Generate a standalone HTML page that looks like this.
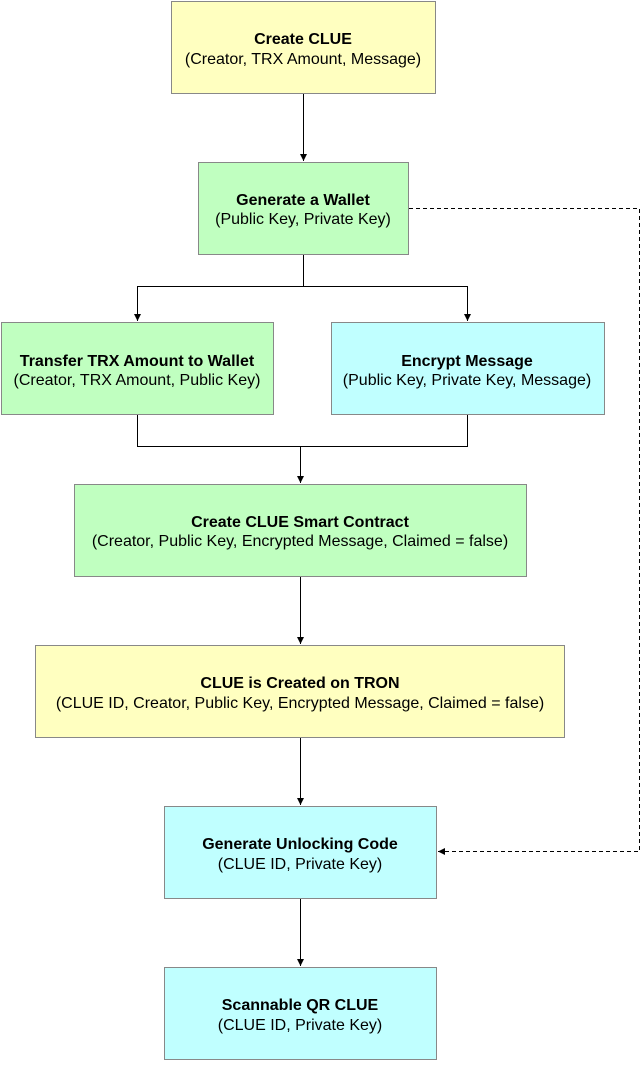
<!DOCTYPE html>
<html><head><meta charset="utf-8"><style>
html,body{margin:0;padding:0;background:#fff}
svg text{font-family:"Liberation Sans",Arial,sans-serif;font-size:16px;fill:#000;text-anchor:middle}
.b{font-weight:bold}
</style></head><body>
<svg width="642" height="1060" viewBox="0 0 642 1060" xmlns="http://www.w3.org/2000/svg">
<defs><marker id="a" markerWidth="8" markerHeight="8" refX="7" refY="4" orient="auto" markerUnits="userSpaceOnUse"><path d="M0,0.5 L7,4 L0,7.5 z" fill="#000"/></marker></defs>
<g stroke="#888" stroke-width="1">
<rect x="171.5" y="1.5" width="264" height="92" fill="#ffffc0"/>
<rect x="198.5" y="162.5" width="210" height="92" fill="#c0ffc0"/>
<rect x="1.5" y="322.5" width="272" height="92" fill="#c0ffc0"/>
<rect x="331.5" y="322.5" width="273" height="92" fill="#c0ffff"/>
<rect x="74.5" y="484.5" width="452" height="92" fill="#c0ffc0"/>
<rect x="35.5" y="645.5" width="529" height="92" fill="#ffffc0"/>
<rect x="164.5" y="806.5" width="272" height="92" fill="#c0ffff"/>
<rect x="164.5" y="967.5" width="272" height="92" fill="#c0ffff"/>
</g>
<g stroke="#000" stroke-width="1" fill="none">
<path d="M303.5 94 V161" marker-end="url(#a)"/>
<path d="M303.5 255 V286.5 H137.5 V321" marker-end="url(#a)"/>
<path d="M303.5 286.5 H467.5 V321" marker-end="url(#a)"/>
<path d="M137.5 415 V446.5 H467.5 V415"/>
<path d="M300.5 446.5 V483" marker-end="url(#a)"/>
<path d="M300.5 577 V644" marker-end="url(#a)"/>
<path d="M300.5 738 V805" marker-end="url(#a)"/>
<path d="M300.5 899 V966" marker-end="url(#a)"/>
<path d="M409 208.5 H639.5 V851.5 H438" stroke-dasharray="4,3" marker-end="url(#a)"/>
</g>
<text x="303" y="44" class="b">Create CLUE</text>
<text x="303" y="64">(Creator, TRX Amount, Message)</text>
<text x="303" y="205" class="b">Generate a Wallet</text>
<text x="303" y="224">(Public Key, Private Key)</text>
<text x="137" y="366" class="b">Transfer TRX Amount to Wallet</text>
<text x="137" y="385">(Creator, TRX Amount, Public Key)</text>
<text x="467" y="366" class="b">Encrypt Message</text>
<text x="467" y="385">(Public Key, Private Key, Message)</text>
<text x="300" y="527" class="b">Create CLUE Smart Contract</text>
<text x="300" y="546">(Creator, Public Key, Encrypted Message, Claimed = false)</text>
<text x="300" y="688" class="b">CLUE is Created on TRON</text>
<text x="300" y="708">(CLUE ID, Creator, Public Key, Encrypted Message, Claimed = false)</text>
<text x="300" y="849" class="b">Generate Unlocking Code</text>
<text x="300" y="869">(CLUE ID, Private Key)</text>
<text x="300" y="1010" class="b">Scannable QR CLUE</text>
<text x="300" y="1030">(CLUE ID, Private Key)</text>
</svg>
</body></html>
